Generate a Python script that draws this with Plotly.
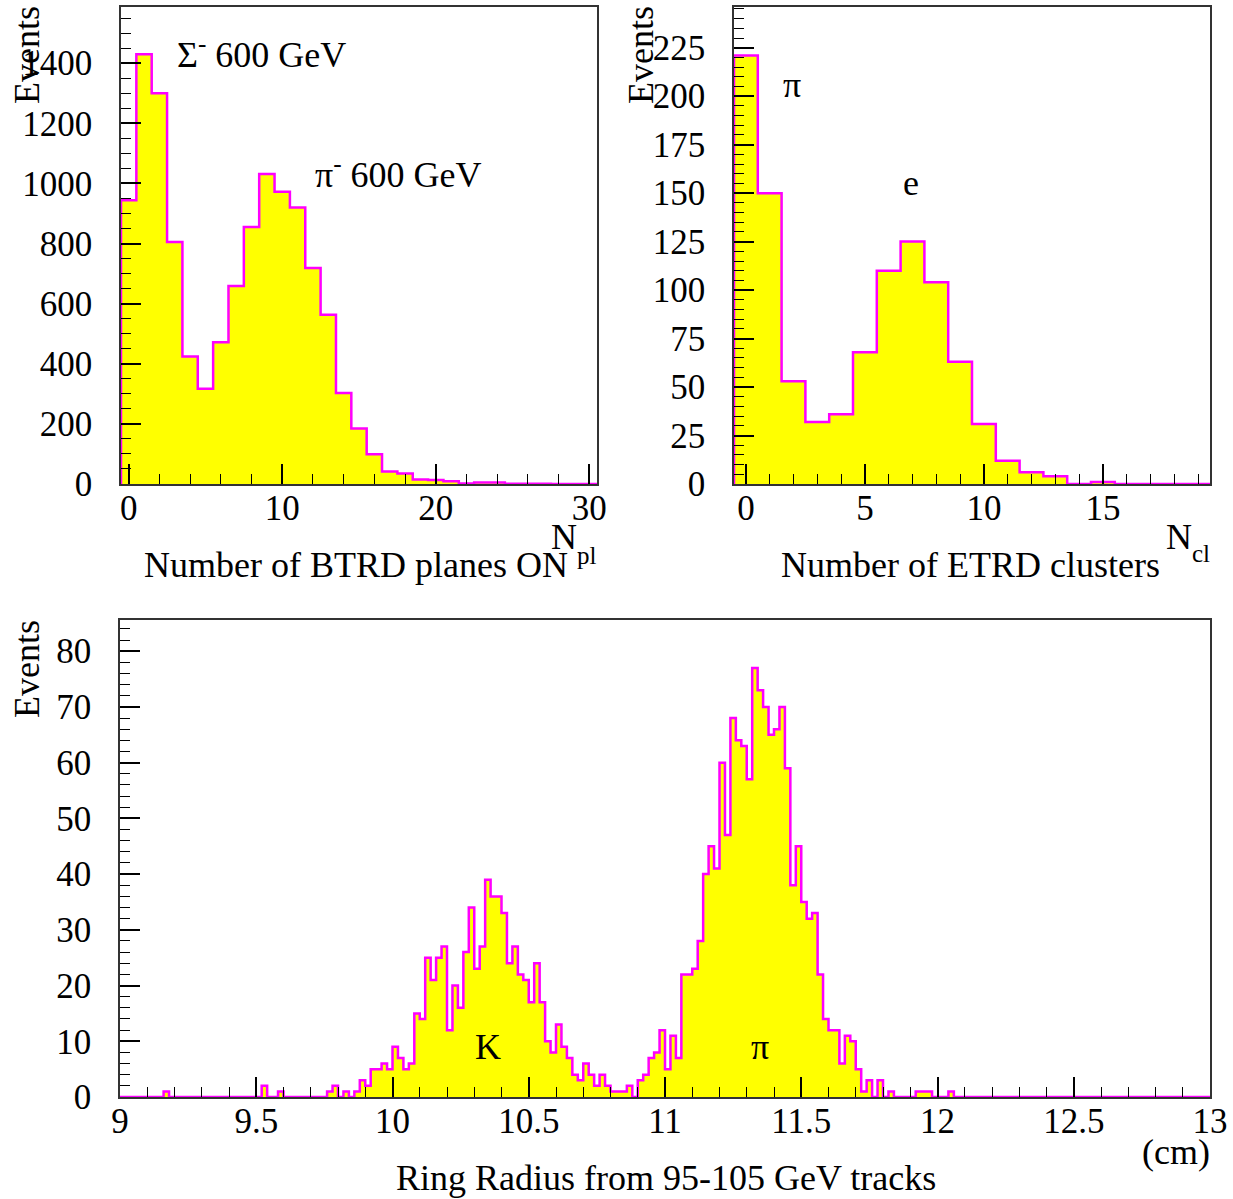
import numpy as np
import plotly.graph_objects as go

# ---------------- data ----------------
# Top-left: Number of BTRD planes ON (bins centred on 0..30)
btrd_bins = list(range(0, 31))
btrd_counts = [944, 1430, 1300, 805, 424, 317, 472, 659, 855, 1031,
               972, 920, 719, 563, 303, 185, 99, 42, 35, 15,
               13, 9, 2, 5, 5, 1, 1, 1, 0, 0, 0]

# Top-right: Number of ETRD clusters (bins centred on 0..19)
etrd_bins = list(range(0, 20))
etrd_counts = [221, 150, 53, 32, 36, 68, 110, 125, 104, 63,
               31, 12, 6, 4, 0, 1, 0, 0, 0, 0]

# Bottom: Ring radius (cm), 200 bins of 0.02 cm from 9 to 13
ring_lo, ring_hi, ring_nbins = 9.0, 13.0, 200
ring_counts = [
    0, 0, 0, 0, 0, 0, 0, 0, 1, 0, 0, 0, 0, 0, 0, 0, 0, 0, 0, 0,
    0, 0, 0, 0, 0, 0, 2, 0, 0, 1, 0, 0, 0, 0, 0, 0, 0, 0, 1, 2,
    0, 1, 0, 1, 3, 2, 5, 5, 6, 5, 9, 7, 5, 6, 15, 14, 25, 21, 25, 27,
    12, 20, 16, 26, 34, 23, 27, 39, 36, 36, 33, 24, 27, 22, 21, 17, 24, 17, 10, 8,
    13, 9, 7, 4, 3, 6, 4, 2, 4, 2, 1, 1, 1, 2, 0, 3, 4, 7, 8, 12,
    5, 11, 7, 22, 22, 23, 28, 40, 45, 41, 60, 47, 68, 64, 63, 57, 77, 73, 70, 65,
    66, 70, 59, 38, 45, 35, 32, 33, 22, 14, 12, 12, 6, 11, 10, 5, 1, 3, 0, 3,
    0, 1, 0, 0, 0, 0, 1, 1, 1, 0, 0, 0, 1, 0, 0, 0, 0, 0, 0, 0,
    0, 0, 0, 0, 0, 0, 0, 0, 0, 0, 0, 0, 0, 0, 0, 0, 0, 0, 0, 0,
    0, 0, 0, 0, 0, 0, 0, 0, 0, 0, 0, 0, 0, 0, 0, 0, 0, 0, 0, 0,
]

# ---------------- helpers ----------------
W, H = 1233, 1199
FONT = "Liberation Serif"
FILL = "#ffff00"
EDGE = "#ff00ff"


def px(x):
    return x / W


def py(y):
    return 1 - y / H


def step_xy(edges, counts):
    xs = [edges[0]] + list(edges[:-1]) + [edges[-1], edges[-1]]
    ys = [0] + list(counts) + [counts[-1], 0]
    return xs, ys


def hist_trace(edges, counts, xa, ya):
    xs, ys = step_xy(edges, counts)
    return go.Scatter(x=xs, y=ys, mode="lines", line_shape="hv",
                      line=dict(color=EDGE, width=2.5),
                      fill="tozeroy", fillcolor=FILL,
                      xaxis=xa, yaxis=ya, showlegend=False,
                      hoverinfo="skip")


btrd_edges = np.array(btrd_bins + [btrd_bins[-1] + 1], dtype=float) - 0.5
etrd_edges = np.array(etrd_bins + [etrd_bins[-1] + 1], dtype=float) - 0.5
ring_edges = np.linspace(ring_lo, ring_hi, ring_nbins + 1)

fig = go.Figure()
fig.add_trace(hist_trace(btrd_edges, btrd_counts, "x", "y"))
fig.add_trace(hist_trace(etrd_edges, etrd_counts, "x2", "y2"))
fig.add_trace(hist_trace(ring_edges, ring_counts, "x3", "y3"))

tickfont = dict(family=FONT, size=35, color="black")


def axis(domain, rng, dtick, mdtick, anchor, tick0=0, ylike=False):
    d = dict(domain=domain, range=rng, anchor=anchor, automargin=False,
             showgrid=False, zeroline=False,
             showline=True, linecolor="#333333", linewidth=1.5, mirror=True,
             ticks="inside", ticklen=20, tickwidth=1.5, tickcolor="black",
             tick0=tick0, dtick=dtick, tickfont=tickfont,
             minor=dict(ticks="inside", ticklen=10, tickwidth=1.2,
                        tickcolor="black", dtick=mdtick, tick0=tick0,
                        showgrid=False),
             ticklabelstandoff=20 if ylike else -8)
    return d


fig.update_layout(
    width=W, height=H, margin=dict(l=0, r=0, t=0, b=0, autoexpand=False),
    paper_bgcolor="white", plot_bgcolor="white",
    showlegend=False,
    xaxis=axis([px(121), px(597)], [-0.5, 30.5], 10, 2, "y"),
    yaxis=axis([py(484), py(7)], [0, 1587], 200, 50, "x", ylike=True),
    xaxis2=axis([px(734), px(1210)], [-0.5, 19.5], 5, 1, "y2"),
    yaxis2=axis([py(484), py(7)], [0, 246], 25, 5, "x2", ylike=True),
    xaxis3=axis([px(120), px(1210)], [ring_lo, ring_hi], 0.5, 0.1, "y3", tick0=9),
    yaxis3=axis([py(1097), py(620)], [0, 85.6], 10, 2, "x3", ylike=True),
)


def note(text, x, y, size=36, xanchor="center", yanchor="middle", angle=0):
    fig.add_annotation(text=text, x=px(x), y=py(y), xref="paper", yref="paper",
                       showarrow=False, xanchor=xanchor, yanchor=yanchor,
                       textangle=angle,
                       font=dict(family=FONT, size=size, color="black"))


# axis titles
note("Events", 27, 55, angle=-90)
note("Events", 641, 55, angle=-90)
note("Events", 27, 669, angle=-90)
note("Number of BTRD planes ON", 570, 565, xanchor="right")
note("N", 564, 537)
note("pl", 587, 555, size=25)
note("Number of ETRD clusters", 1162, 565, xanchor="right")
note("N", 1179, 537)
note("cl", 1201, 553, size=25)
note("Ring Radius from 95-105 GeV tracks", 666, 1178)
note("(cm)", 1176, 1152)

# labels in the plots
note("Σ<sup>-</sup> 600 GeV", 175, 52, xanchor="left")
note("π<sup>-</sup> 600 GeV", 313, 173, xanchor="left")
note("π", 792, 85)
note("e", 911, 183)
note("K", 488, 1047)
note("π", 760, 1047)

fig.write_html("out.html")
